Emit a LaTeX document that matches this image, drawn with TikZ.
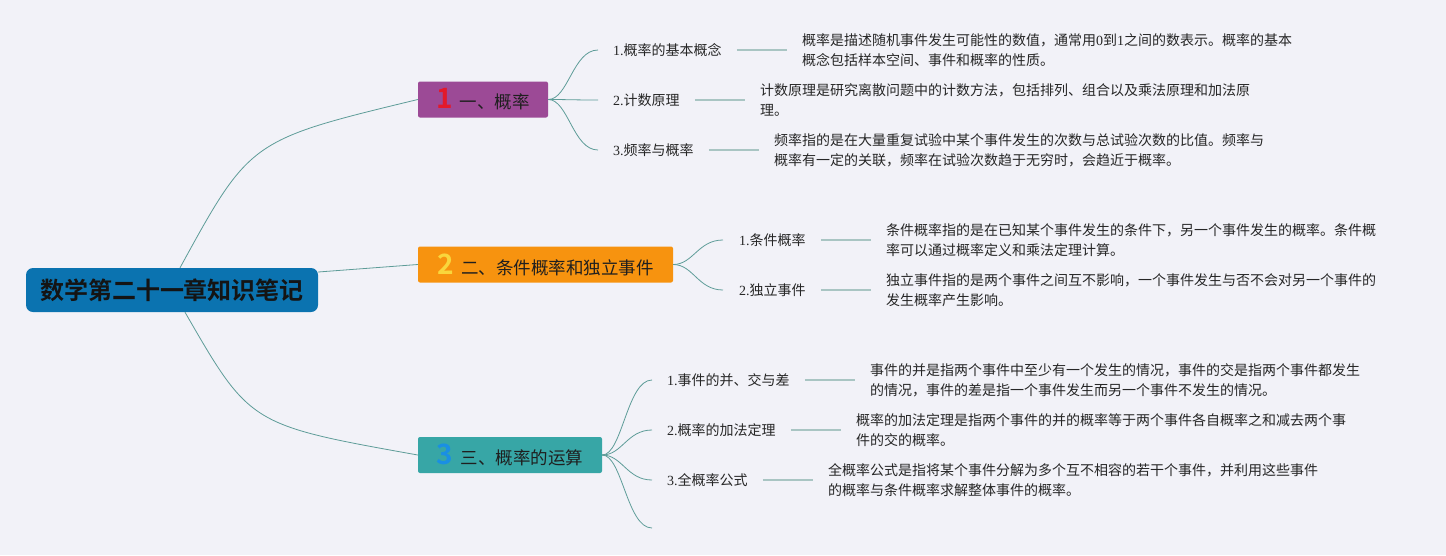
\documentclass[tikz,border=0pt]{standalone}
\usepackage{fontspec}
\setmainfont{Noto Sans CJK SC}[BoldFont={Noto Sans CJK SC Bold}]
\newfontfamily\latin{Liberation Serif}
\usetikzlibrary{positioning}

\definecolor{bgcol}{HTML}{F2F2F8}
\definecolor{rootblue}{HTML}{0B73B0}
\definecolor{topicpurple}{HTML}{9C4A96}
\definecolor{topicorange}{HTML}{F7930F}
\definecolor{topicteal}{HTML}{37A6A6}
\definecolor{numred}{HTML}{E3192B}
\definecolor{numyellow}{HTML}{F9D63C}
\definecolor{numblue}{HTML}{1A8FE3}
\definecolor{linegreen}{HTML}{5E9C98}
\definecolor{stubgreen}{HTML}{A9C5C3}

\tikzset{
  root/.style={fill=rootblue, rounded corners=7pt, minimum width=292pt, minimum height=44pt,
    inner sep=0pt, font=\fontsize{24}{30}\selectfont\bfseries, text=black!92},
  topic/.style={rounded corners=2pt, minimum height=36pt, inner sep=0pt,
    font=\fontsize{17.5}{20}\selectfont, text=black!88},
  leaf/.style={inner sep=0pt, anchor=west, font=\fontsize{14}{20}\selectfont, text=black!85},
  note/.style={inner sep=0pt, align=left, font=\fontsize{14}{20}\selectfont, text=black!85},
  branch/.style={draw=linegreen, line width=0.8pt},
  stub/.style={draw=stubgreen, line width=2pt},
}
\newcommand{\bignum}[2]{{\fontsize{28}{28}\selectfont\bfseries\color{#1}#2}\hspace{7pt}}

\begin{document}
\begin{tikzpicture}[x=1pt, y=-1pt]

\fill[bgcol] (0,0) rectangle (1446,555);
\useasboundingbox (0,0) rectangle (1446,555);

% Root
\node[root] (root) at (172,290) {数学第二十一章知识笔记};

% Topics
\node[topic, fill=topicpurple, minimum width=130pt] (t1) at (483,99.5) {\bignum{numred}{1}一、概率};
\node[topic, fill=topicorange, minimum width=255pt] (t2) at (545.5,264.5) {\bignum{numyellow}{2}二、条件概率和独立事件};
\node[topic, fill=topicteal, minimum width=184pt] (t3) at (510,455) {\bignum{numblue}{3}三、概率的运算};

\draw[branch] ([xshift=8pt]root.north) .. controls (250,140) .. (t1.west);
\draw[branch] ([yshift=18pt]root.east) -- (t2.west);
\draw[branch] ([xshift=13pt]root.south) .. controls (250,425) .. (t3.west);

% Topic 1
\foreach \i/\y/\lab/\txt in {
    1/50/{{\latin 1.}概率的基本概念}/{概率是描述随机事件发生可能性的数值，通常用{\latin 0}到{\latin 1}之间的数表示。概率的基本\\概念包括样本空间、事件和概率的性质。},
    2/100/{{\latin 2.}计数原理}/{计数原理是研究离散问题中的计数方法，包括排列、组合以及乘法原理和加法原\\理。},
    3/150/{{\latin 3.}频率与概率}/{频率指的是在大量重复试验中某个事件发生的次数与总试验次数的比值。频率与\\概率有一定的关联，频率在试验次数趋于无穷时，会趋近于概率。}} {
    \coordinate (a\i) at (598,\y);
    \draw[branch] (t1.east) .. controls +(20,0) and +(-25,0) .. (a\i);
    \node[leaf] (la\i) at (613,\y) {\lab};
    \node[note, right=80pt of la\i] (na\i) {\txt};
    \draw[stub] ([xshift=15pt]la\i.east) -- ([xshift=-15pt]na\i.west);
}

% Topic 2
\foreach \i/\y/\lab/\txt in {
    1/240/{{\latin 1.}条件概率}/{条件概率指的是在已知某个事件发生的条件下，另一个事件发生的概率。条件概\\率可以通过概率定义和乘法定理计算。},
    2/290/{{\latin 2.}独立事件}/{独立事件指的是两个事件之间互不影响，一个事件发生与否不会对另一个事件的\\发生概率产生影响。}} {
    \coordinate (b\i) at (723,\y);
    \draw[branch] (t2.east) .. controls +(20,0) and +(-25,0) .. (b\i);
    \node[leaf] (lb\i) at (739,\y) {\lab};
    \node[note, right=80pt of lb\i] (nb\i) {\txt};
    \draw[stub] ([xshift=15pt]lb\i.east) -- ([xshift=-15pt]nb\i.west);
}

% Topic 3
\foreach \i/\y/\lab/\txt in {
    1/380/{{\latin 1.}事件的并、交与差}/{事件的并是指两个事件中至少有一个发生的情况，事件的交是指两个事件都发生\\的情况，事件的差是指一个事件发生而另一个事件不发生的情况。},
    2/430/{{\latin 2.}概率的加法定理}/{概率的加法定理是指两个事件的并的概率等于两个事件各自概率之和减去两个事\\件的交的概率。},
    3/480/{{\latin 3.}全概率公式}/{全概率公式是指将某个事件分解为多个互不相容的若干个事件，并利用这些事件\\的概率与条件概率求解整体事件的概率。}} {
    \coordinate (c\i) at (652,\y);
    \draw[branch] (t3.east) .. controls +(20,0) and +(-25,0) .. (c\i);
    \node[leaf] (lc\i) at (667,\y) {\lab};
    \node[note, right=80pt of lc\i] (nc\i) {\txt};
    \draw[stub] ([xshift=15pt]lc\i.east) -- ([xshift=-15pt]nc\i.west);
}
\coordinate (c4) at (652,528);
\draw[branch] (t3.east) .. controls +(20,0) and +(-25,0) .. (c4);

\end{tikzpicture}
\end{document}
